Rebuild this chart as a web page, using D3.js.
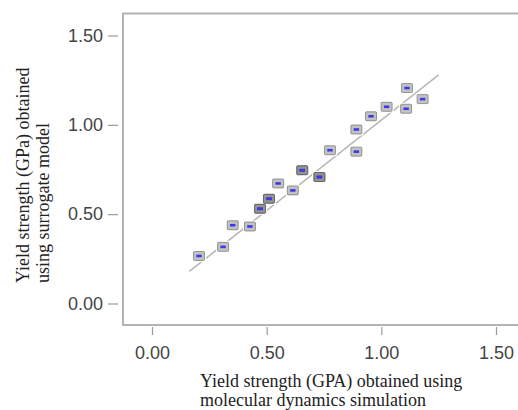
<!DOCTYPE html>
<html>
<head>
<meta charset="utf-8">
<script src="https://cdn.jsdelivr.net/npm/d3@7"></script>
<style>
  body { margin: 0; background: #fff; }
  svg { display: block; }
  .tick text { font-family: "Liberation Sans", Arial, sans-serif; font-size: 18px; fill: #444; }
  .tick line { stroke: #9a9a9a; stroke-width: 1.2; }
  .title { font-family: "Liberation Serif", "Times New Roman", serif; font-size: 18px; fill: #222; }
</style>
</head>
<body>
<div id="chart-container"></div>
<script>
// Molecular dynamics yield strength (GPa) vs surrogate model prediction
// (two pairs repeat, which is why those markers look darker)
const mdValues = [0.205, 0.310, 0.352, 0.427, 0.471, 0.471, 0.510, 0.510, 0.550, 0.614,
                  0.655, 0.655, 0.730, 0.730, 0.776, 0.891, 0.891, 0.955, 1.023, 1.108, 1.112, 1.180];
const surrogateValues = [0.266, 0.317, 0.438, 0.431, 0.530, 0.530, 0.586, 0.586, 0.672, 0.633,
                         0.746, 0.746, 0.708, 0.708, 0.858, 0.974, 0.850, 1.048, 1.101, 1.090, 1.206, 1.144];

// fitted line end points
const fitX = [0.163, 1.250];
const fitY = [0.180, 1.279];

const tickValues = [0, 0.5, 1.0, 1.5];

const points = mdValues.map((d, i) => ({ x: d, y: surrogateValues[i] }));

const svg = d3.select("#chart-container")
    .append("svg")
    .attr("width", 518)
    .attr("height", 410);

// scales
const x = d3.scaleLinear().domain([0, 1.5]).range([152, 496]);
const y = d3.scaleLinear().domain([0, 1.5]).range([303.5, 35.5]);

// plot frame (runs off the right edge)
svg.append("rect")
    .attr("x", 123)
    .attr("y", 13.5)
    .attr("width", 420)
    .attr("height", 311.5)
    .attr("fill", "none")
    .attr("stroke", "#ababab")
    .attr("stroke-width", 1.8);

// axes
const xAxis = svg.append("g")
    .attr("transform", "translate(0,327)")
    .call(d3.axisBottom(x).tickValues(tickValues).tickFormat(d3.format(".2f")).tickSize(8).tickPadding(11));
xAxis.select(".domain").remove();

const yAxis = svg.append("g")
    .attr("transform", "translate(118,0)")
    .call(d3.axisLeft(y).tickValues(tickValues).tickFormat(d3.format(".2f")).tickSize(10).tickPadding(5));
yAxis.select(".domain").remove();

// fit line
svg.append("line")
    .attr("x1", x(fitX[0]))
    .attr("y1", y(fitY[0]))
    .attr("x2", x(fitX[1]))
    .attr("y2", y(fitY[1]))
    .attr("stroke", "#b8b8b8")
    .attr("stroke-width", 1.6);

// white halo behind markers
svg.append("g").selectAll("rect")
    .data(points)
    .enter().append("rect")
    .attr("x", d => x(d.x) - 7)
    .attr("y", d => y(d.y) - 6)
    .attr("width", 14)
    .attr("height", 12)
    .attr("rx", 1.5)
    .attr("fill", "#fff");

// markers
const marks = svg.append("g").selectAll("g")
    .data(points)
    .enter().append("g")
    .attr("transform", d => "translate(" + x(d.x) + "," + y(d.y) + ")");

marks.append("rect")
    .attr("x", -5.5)
    .attr("y", -4.5)
    .attr("width", 11)
    .attr("height", 9)
    .attr("rx", 1)
    .attr("fill", "#000")
    .attr("fill-opacity", 0.24)
    .attr("stroke", "#555")
    .attr("stroke-opacity", 0.55)
    .attr("stroke-width", 1);

marks.append("rect")
    .attr("x", -2.7)
    .attr("y", -1.3)
    .attr("width", 5.4)
    .attr("height", 2.6)
    .attr("fill", "#3a3ae6");

// axis titles
const xTitle = svg.append("text")
    .attr("class", "title")
    .attr("x", 200)
    .attr("y", 387);
xTitle.append("tspan").attr("x", 200).text("Yield strength (GPA) obtained using");
xTitle.append("tspan").attr("x", 200).attr("dy", 18.5).text("molecular dynamics simulation");

const yTitle = svg.append("text")
    .attr("class", "title")
    .attr("transform", "rotate(-90)")
    .attr("x", -283)
    .attr("y", 28.5);
yTitle.append("tspan").attr("x", -283).text("Yield strength (GPa) obtained");
yTitle.append("tspan").attr("x", -283).attr("dy", 20).text("using surrogate model");
</script>
</body>
</html>
